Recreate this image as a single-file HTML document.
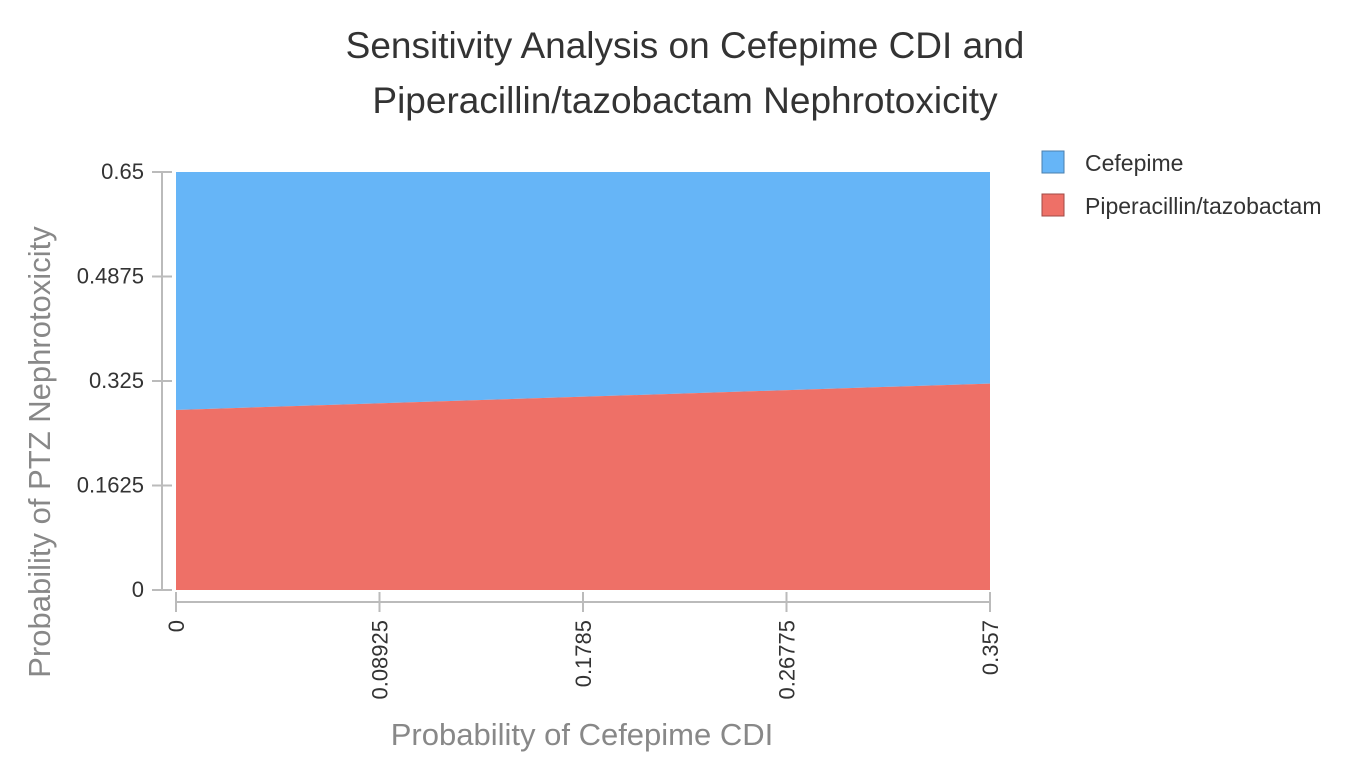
<!DOCTYPE html>
<html><head><meta charset="utf-8"><style>
body{margin:0;background:#fff;font-family:"Liberation Sans",sans-serif}
svg text{font-family:"Liberation Sans",sans-serif}
</style></head><body>
<svg id="chart" width="1366" height="768" xmlns="http://www.w3.org/2000/svg">
<text x="685" y="58" text-anchor="middle" font-size="37" fill="#333">Sensitivity Analysis on Cefepime CDI and</text>
<text x="685" y="113" text-anchor="middle" font-size="37" fill="#333">Piperacillin/tazobactam Nephrotoxicity</text>
<g id="plot"></g>
<g id="axes"></g>
<text transform="translate(50,452) rotate(-90)" text-anchor="middle" font-size="31" fill="#888">Probability of PTZ Nephrotoxicity</text>
<text x="582" y="745" text-anchor="middle" font-size="31" fill="#888">Probability of Cefepime CDI</text>
<g>
<rect x="1042" y="151" width="22" height="22" fill="#66b5f7" stroke="#4a7fae"/>
<text x="1085" y="171" font-size="23" fill="#333">Cefepime</text>
<rect x="1042" y="194" width="22" height="22" fill="#ee7067" stroke="#a04a45"/>
<text x="1085" y="214" font-size="23" fill="#333">Piperacillin/tazobactam</text>
</g>
</svg>
<script>
const xValues=[0,0.357];
const thresholdValues=[0.280,0.321];
const yTicks=["0","0.1625","0.325","0.4875","0.65"];
const xTicks=["0","0.08925","0.1785","0.26775","0.357"];
const NS="http://www.w3.org/2000/svg";
const X0=176,X1=990,Y0=590,Y1=172,yMax=0.65,xMax=0.357;
const sx=v=>X0+(v/xMax)*(X1-X0);
const sy=v=>Y0-(v/yMax)*(Y0-Y1);
function mk(t,a,p){const e=document.createElementNS(NS,t);for(const k in a)e.setAttribute(k,a[k]);p.appendChild(e);return e;}
const plotG=document.getElementById('plot'),axesG=document.getElementById('axes');
const edgePts=xValues.map((x,i)=>sx(x)+','+sy(thresholdValues[i]));
const blue=mk('polygon',{points:sx(xValues[0])+','+sy(yMax)+' '+sx(xValues[xValues.length-1])+','+sy(yMax)+' '+edgePts.slice().reverse().join(' '),fill:'#66b5f7'},plotG);


const red=mk('polygon',{points:edgePts.join(' ')+' '+sx(xValues[xValues.length-1])+','+sy(0)+' '+sx(xValues[0])+','+sy(0),fill:'#ee7067'},plotG);


const yl=mk('line',{x1:162,x2:162,y1:sy(yMax),y2:sy(0),stroke:'#bbb','stroke-width':2},axesG);


yTicks.forEach(t=>{const y=sy(parseFloat(t));
 const l=mk('line',{x1:152,x2:172,y1:y,y2:y,stroke:'#bbb','stroke-width':2},axesG);
 
 
 const tx=mk('text',{x:144,y:y+7,'text-anchor':'end','font-size':22,fill:'#333'},axesG);tx.textContent=t;
 
 });
const xl=mk('line',{x1:sx(0),x2:sx(xMax),y1:602,y2:602,stroke:'#bbb','stroke-width':2},axesG);


xTicks.forEach(t=>{const x=sx(parseFloat(t));
 const l=mk('line',{x1:x,x2:x,y1:592,y2:612,stroke:'#bbb','stroke-width':2},axesG);
 
 
 const tx=mk('text',{transform:`translate(${x+8},620) rotate(-90)`,'text-anchor':'end','font-size':22,fill:'#333'},axesG);tx.textContent=t;
 
 });
</script>
</body></html>
